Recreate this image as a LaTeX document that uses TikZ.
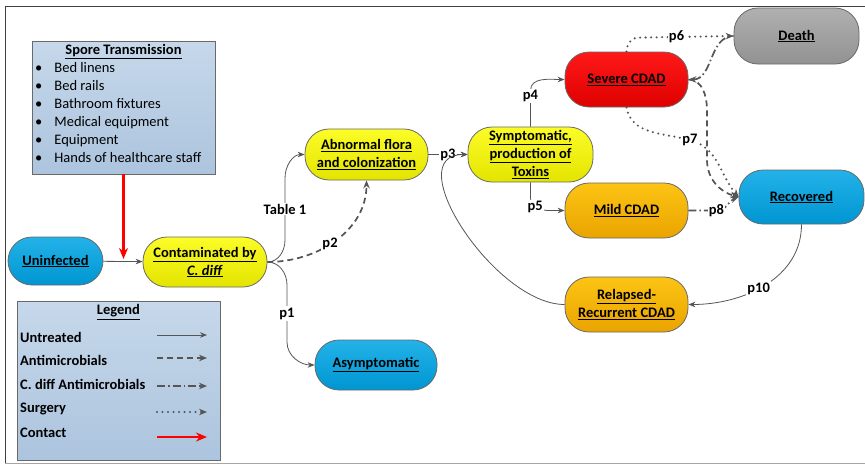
\documentclass[tikz,border=0pt]{standalone}
\usepackage{fontspec}
\setmainfont{Carlito}
\usetikzlibrary{arrows.meta,positioning}

\definecolor{edgegray}{RGB}{85,85,85}
\definecolor{rimgray}{RGB}{105,105,105}
\definecolor{cyantop}{RGB}{35,178,232}
\definecolor{cyanbot}{RGB}{0,150,210}
\definecolor{yeltop}{RGB}{252,252,40}
\definecolor{yelbot}{RGB}{228,228,0}
\definecolor{redtop}{RGB}{255,25,25}
\definecolor{redbot}{RGB}{222,0,0}
\definecolor{orgtop}{RGB}{252,196,20}
\definecolor{orgbot}{RGB}{234,164,0}
\definecolor{gratop}{RGB}{176,176,176}
\definecolor{grabot}{RGB}{146,146,146}
\definecolor{pantop}{RGB}{198,216,234}
\definecolor{panbot}{RGB}{172,196,222}

\newcommand{\txtfont}{\fontsize{14.5}{18}\selectfont}
\newcommand{\uln}[1]{\underline{#1}}

\tikzset{
  state/.style={draw=rimgray, line width=0.8, rounded corners=24,
    minimum width=123, minimum height=52, inner sep=2,
    align=center, font=\txtfont\bfseries},
  cyanst/.style={state, top color=cyantop, bottom color=cyanbot},
  yellowst/.style={state, top color=yeltop, bottom color=yelbot},
  redst/.style={state, top color=redtop, bottom color=redbot},
  orangest/.style={state, top color=orgtop, bottom color=orgbot},
  grayst/.style={state, top color=gratop, bottom color=grabot},
  panel/.style={draw=rimgray, line width=0.8, top color=pantop, bottom color=panbot},
  untreated/.style={draw=edgegray, line width=0.8, -{Stealth[length=7,width=5.5]}},
  antimic/.style={draw=edgegray, line width=1.7, dash pattern=on 6 off 4, -{Stealth[length=8,width=6.5]}},
  cdiffab/.style={draw=edgegray, line width=1.7, dash pattern=on 8 off 3 on 1.5 off 3, -{Stealth[length=8,width=6.5]}},
  surgery/.style={draw=edgegray, line width=2.3, line cap=round, dash pattern=on 0 off 5.5, -{Stealth[length=8,width=6.5]}},
  contact/.style={draw=red, line width=2.2, -{Stealth[length=11,width=9]}},
  lbl/.style={fill=white, inner sep=1.2, font=\txtfont\bfseries},
  keylbl/.style={anchor=west, inner sep=0, font=\txtfont\bfseries},
}

\begin{document}
\begin{tikzpicture}[x=1pt,y=1pt,font=\txtfont]
  \useasboundingbox (0,0) rectangle (865,-464);
  % frame
  \draw[line width=1, black!75] (5,-463) -- (5,-6) -- (865,-6);
  \draw[line width=1, black!35] (5,-463) -- (865,-463);

  % spore transmission box
  \node[panel, minimum width=183, minimum height=133] (spore) at (123.5,-107.5) {};
  \node[font=\txtfont\bfseries] (sporehd) at (123.5,-52) {\uln{Spore Transmission}};
  \node[anchor=north west, inner sep=0] (sporelist) at (35,-60) {%
    \begin{tabular}{@{}l@{\hspace{12pt}}l@{}}
      \textbullet & Bed linens\\
      \textbullet & Bed rails\\
      \textbullet & Bathroom fixtures\\
      \textbullet & Medical equipment\\
      \textbullet & Equipment\\
      \textbullet & Hands of healthcare staff
    \end{tabular}};

  % states
  \node[cyanst, minimum width=95, minimum height=48] (uninf) at (55.5,-261) {\uln{Uninfected}};
  \node[yellowst, minimum width=124, minimum height=50] (contam) at (205,-262) {\uln{Contaminated by}\\\uln{\textit{C. diff}}};
  \node[yellowst, minimum height=51] (abn) at (366.5,-154.5) {\uln{Abnormal flora}\\\uln{and colonization}};
  \node[yellowst, minimum width=125, minimum height=55] (symp) at (530.5,-154.5) {\uln{Symptomatic,}\\\uln{production of}\\\uln{Toxins}};
  \node[redst, minimum height=55] (severe) at (626.5,-79.5) {\uln{Severe CDAD}};
  \node[grayst, minimum width=125, minimum height=56] (death) at (796.5,-36) {\uln{Death}};
  \node[cyanst, minimum width=125, minimum height=54] (recov) at (801.5,-197) {\uln{Recovered}};
  \node[orangest, minimum height=55] (mild) at (626.5,-210.5) {\uln{Mild CDAD}};
  \node[orangest, minimum height=55] (relapse) at (626.5,-304.5) {\uln{Relapsed-}\\\uln{Recurrent CDAD}};
  \node[cyanst, minimum width=122, minimum height=50] (asym) at (376,-365) {\uln{Asymptomatic}};

  % transitions
  \draw[untreated] (uninf) -- (contam);
  \coordinate (hit) at (spore.south |- uninf.east);
  \draw[contact, shorten >=2] (spore.south) -- (hit);
  \draw[untreated] (contam.east) to[out=0,in=-90] (285,-240) -- node[lbl]{Table 1} (285,-178) to[out=90,in=180] (abn.west);
  \draw[untreated] (contam.east) to[out=0,in=90] (287,-285) -- node[lbl]{p1} (287,-342) to[out=-90,in=180] (asym.west);
  \draw[antimic] (contam.east) to[out=0,in=-90] node[lbl,pos=0.45]{p2} (abn.south);
  \draw[untreated] (abn) -- node[lbl]{p3} (symp);
  \draw[untreated] (symp.north) -- node[lbl,pos=0.85]{p4} ++(0,36) to[out=90,in=180] (severe.west);
  \draw[untreated] (symp.south) -- ++(0,-16) to[out=-90,in=180] node[lbl,pos=0.3]{p5} (mild.west);
  \draw[surgery] (severe.north) to[out=90,in=180] ++(12,14) -- node[lbl,pos=0.4]{p6} (death.west);
  \draw[cdiffab, {Stealth[length=8,width=6.5]}-] (severe.east) to[out=0,in=180] (death.west);
  \draw[antimic] (severe.east) to[out=0,in=90] (707,-110) -- (707,-160) to[out=-90,in=165] (recov.west);
  \draw[surgery] (severe.south) to[out=-80,in=165] (690,-140) node[lbl]{p7} to[out=-15,in=130] (recov.west);
  \draw[cdiffab] (mild.east) -- ++(28,0) node[lbl]{p8} to[out=0,in=200] (recov.west);
  \draw[untreated] (recov.south) to[out=-90,in=0] node[lbl,pos=0.55]{p10} (relapse.east);
  \draw[untreated] (relapse.west) to[out=180,in=180] (symp.west);

  % legend
  \node[panel, minimum width=203, minimum height=159] (legend) at (118.5,-380.5) {};
  \node[font=\txtfont\bfseries] (legendhd) at (118.5,-312) {\uln{Legend}};
  \node[keylbl] (kunt) at (20,-337) {Untreated};
  \node[keylbl] (kanti) at (20,-360) {Antimicrobials};
  \node[keylbl] (kcdiff) at (20,-384) {C. diff Antimicrobials};
  \node[keylbl] (ksurg) at (20,-409) {Surgery};
  \node[keylbl] (kcont) at (20,-433) {Contact};
  \draw[untreated] (157,-335) -- (207,-335);
  \draw[antimic] (157,-358) -- (207,-358);
  \draw[cdiffab] (157,-386) -- (207,-386);
  \draw[surgery] (157,-412) -- (207,-412);
  \draw[contact] (157,-437) -- (207,-437);
\end{tikzpicture}
\end{document}
